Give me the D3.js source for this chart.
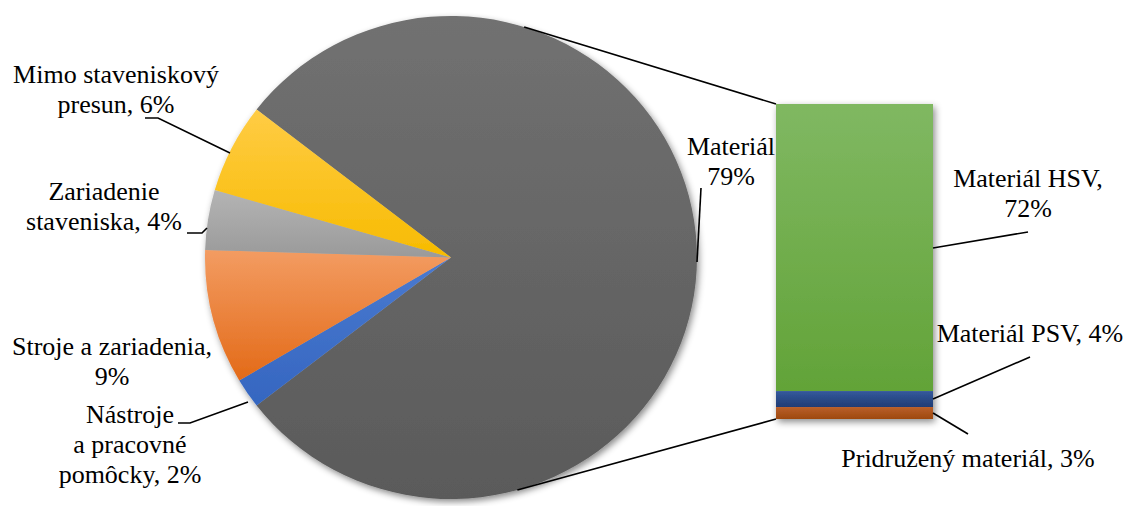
<!DOCTYPE html>
<html>
<head>
<meta charset="utf-8">
<script src="https://cdn.jsdelivr.net/npm/d3@7"></script>
<style>
  html, body { margin: 0; padding: 0; background: #fff; }
  svg { display: block; }
</style>
</head>
<body>
<svg id="chart" width="1130" height="506"></svg>
<script>
// Cost structure: main pie, with the "Materiál" slice broken down in a stacked bar
const pieLabels = ["Materiál", "Nástroje a pracovné pomôcky", "Stroje a zariadenia", "Zariadenie staveniska", "Mimo staveniskový presun"];
const pieValues = [79, 2, 9, 4, 6];
const barLabels = ["Materiál HSV", "Materiál PSV", "Pridružený materiál"];
const barValues = [72, 4, 3];

// Label text lines and where they sit
const pieLabelLines = [
  ["Materiál", "79%"],
  ["Nástroje", "a pracovné", "pomôcky, 2%"],
  ["Stroje a zariadenia,", "9%"],
  ["Zariadenie", "staveniska, 4%"],
  ["Mimo staveniskový", "presun, 6%"]
];
const barLabelLines = [
  ["Materiál HSV,", "72%"],
  ["Materiál PSV, 4%"],
  ["Pridružený materiál, 3%"]
];
const pieLabelPos = [
  { x: 731, y: 155, lead: [[701, 188], [697, 262]] },
  { x: 130, y: 423, lead: [[178, 423], [190, 423], [248, 402]] },
  { x: 112, y: 355, lead: null },
  { x: 104, y: 200, lead: [[187, 233], [202, 233], [207, 228]] },
  { x: 116, y: 83, lead: [[145, 118], [158, 118], [230, 153]] }
];
const barLabelPos = [
  { x: 1028, y: 187, lead: [[1028, 232]] },
  { x: 1030, y: 342, lead: [[1030, 357]] },
  { x: 968, y: 467, lead: [[968, 434]] }
];

const labelFont = "'Liberation Serif', 'Times New Roman', serif";

const pieColors = [
  ["#717171", "#5a5a5a"],
  ["#4a7ad0", "#3566c0"],
  ["#f39c62", "#e36a18"],
  ["#b4b4b4", "#9a9a9a"],
  ["#ffcc45", "#f7bb00"]
];
const barColors = [
  ["#80b862", "#62a338"],
  ["#34589c", "#1f3c74"],
  ["#b9602a", "#9e480e"]
];

const svg = d3.select("#chart");
const defs = svg.append("defs");

const shadow = defs.append("filter").attr("id", "shadow")
  .attr("x", "-10%").attr("y", "-10%").attr("width", "120%").attr("height", "120%");
shadow.append("feDropShadow").attr("dx", 2).attr("dy", 3).attr("stdDeviation", 3.5)
  .attr("flood-color", "#000").attr("flood-opacity", 0.45);

function gradient(id, c) {
  const g = defs.append("linearGradient").attr("id", id)
    .attr("x1", 0).attr("y1", 0).attr("x2", 0).attr("y2", 1);
  g.append("stop").attr("offset", "0%").attr("stop-color", c[0]);
  g.append("stop").attr("offset", "100%").attr("stop-color", c[1]);
}
pieColors.forEach((c, i) => gradient("pg" + i, c));
barColors.forEach((c, i) => gradient("bg" + i, c));

// ---- Pie ----
const cx = 451, cy = 257.5, rx = 246, ry = 241.5;
const total = d3.sum(pieValues);
const firstSpan = pieValues[0] / total * 2 * Math.PI;
const start = Math.PI / 2 - firstSpan / 2;   // first slice centred on the right side
const pie = d3.pie().sort(null).value(d => d)
  .startAngle(start).endAngle(start + 2 * Math.PI);
const arcs = pie(pieValues);
const arc = d3.arc().innerRadius(0).outerRadius(rx);

const pieG = svg.append("g")
  .attr("transform", `translate(${cx},${cy}) scale(1,${ry / rx})`)
  .attr("filter", "url(#shadow)");
pieG.selectAll("path").data(arcs).join("path")
  .attr("d", arc)
  .attr("fill", (d, i) => `url(#pg${i})`);

// ---- Stacked bar (first segment on top) ----
const barX0 = 776, barX1 = 933, barTop = 104, barBottom = 419;
const barTotal = d3.sum(barValues);
const y = d3.scaleLinear().domain([0, barTotal]).range([barTop, barBottom]);
const stack = [];
let acc = 0;
barValues.forEach(v => { stack.push([acc, acc + v]); acc += v; });

const barG = svg.append("g").attr("filter", "url(#shadow)");
barG.selectAll("rect").data(stack).join("rect")
  .attr("x", barX0)
  .attr("width", barX1 - barX0)
  .attr("y", d => y(d[0]))
  .attr("height", d => y(d[1]) - y(d[0]))
  .attr("fill", (d, i) => `url(#bg${i})`);

// ---- Connector lines: tangents from bar corners to the pie ellipse ----
function tangentPoint(corner, upper) {
  let best = null, bestS = upper ? Infinity : -Infinity;
  for (let k = 0; k < 7200; k++) {
    const t = k / 7200 * 2 * Math.PI;
    const px = cx + rx * Math.sin(t), py = cy - ry * Math.cos(t);
    if (px >= corner[0]) continue;
    const s = (py - corner[1]) / (corner[0] - px);
    if (upper ? s < bestS : s > bestS) { bestS = s; best = [px, py]; }
  }
  return best;
}
const topCorner = [barX0, y(0)];
const botCorner = [barX0, y(barTotal)];
const lines = svg.append("g").attr("stroke", "#000").attr("stroke-width", 1.6).attr("fill", "none");
[[tangentPoint(topCorner, true), topCorner], [tangentPoint(botCorner, false), botCorner]]
  .forEach(seg => lines.append("line")
    .attr("x1", seg[0][0]).attr("y1", seg[0][1])
    .attr("x2", seg[1][0]).attr("y2", seg[1][1]));

// ---- Labels and leader lines ----
const lineH = 30;
const labelsG = svg.append("g")
  .style("font-family", labelFont)
  .style("font-size", "26px");
function drawLabel(lines, pos) {
  const t = labelsG.append("text").attr("text-anchor", "middle").attr("fill", "#000");
  lines.forEach((s, i) => t.append("tspan").attr("x", pos.x).attr("y", pos.y + i * lineH).text(s));
}
pieLabelLines.forEach((l, i) => drawLabel(l, pieLabelPos[i]));
barLabelLines.forEach((l, i) => drawLabel(l, barLabelPos[i]));

const lead = d3.line();
pieLabelPos.forEach(p => {
  if (p.lead) lines.append("path").attr("d", lead(p.lead));
});
// bar leaders start at the right edge of each segment
const barLeadStartY = [248, 399, 413];
barLabelPos.forEach((p, i) => {
  lines.append("path").attr("d", lead([[barX1, barLeadStartY[i]], ...p.lead]));
});
</script>
</body>
</html>
